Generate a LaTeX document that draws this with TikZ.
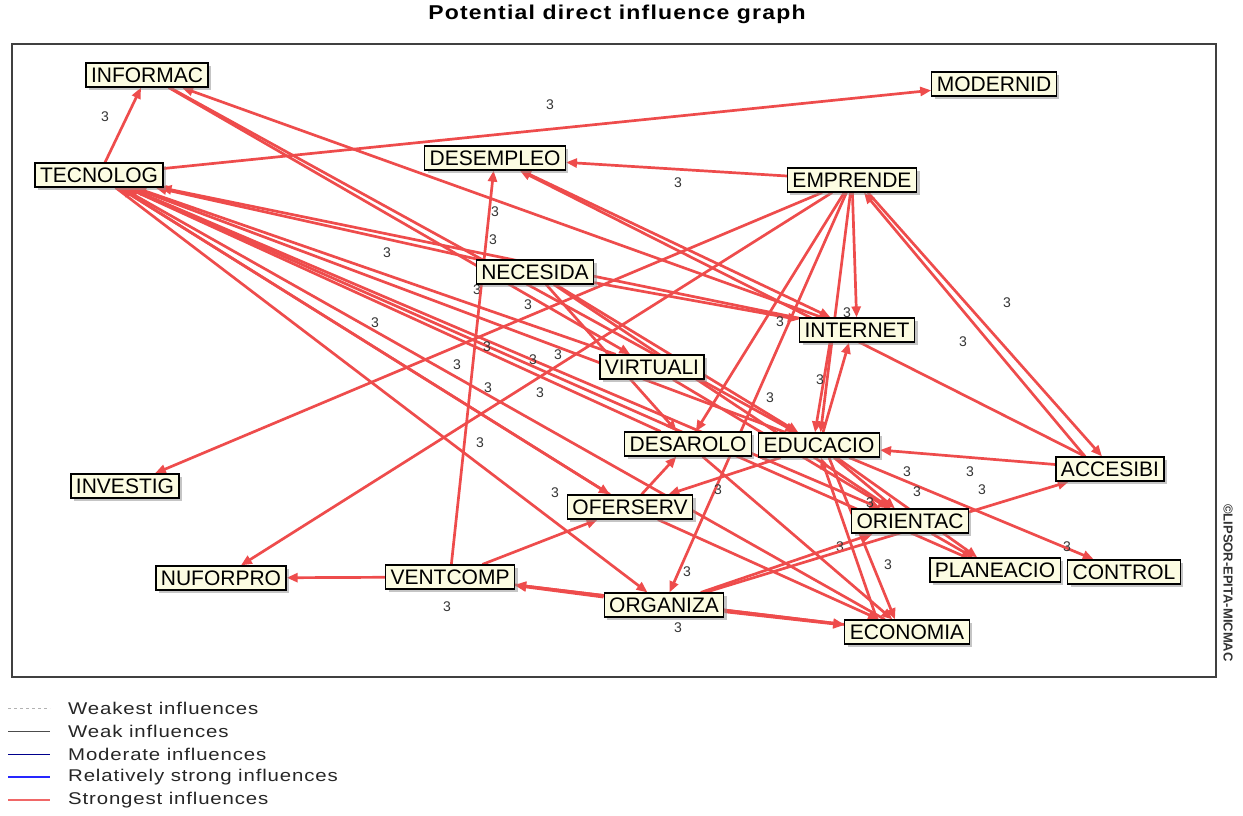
\documentclass[tikz,border=0pt]{standalone}
\usepackage{fontspec}
\setmainfont{Liberation Sans}
\newfontfamily\legfont[FakeStretch=1.2,LetterSpace=5]{Liberation Sans}
\newfontfamily\titlefont[FakeStretch=1.15,LetterSpace=6]{Liberation Sans}
\usetikzlibrary{arrows.meta, shadows}

\definecolor{inflred}{RGB}{238,76,76}
\definecolor{cream}{RGB}{252,252,226}
\pgfdeclarelayer{edges}
\pgfsetlayers{edges,main}

\begin{document}
\begin{tikzpicture}[x=1pt, y=-1pt,
    var/.style={draw=black, line width=1.2pt, fill=cream, inner xsep=5pt, inner ysep=0pt,
        minimum height=24pt, font=\fontsize{21}{23}\selectfont,
        drop shadow={shadow xshift=3pt, shadow yshift=-3pt, fill=black!45}},
    infl/.style={draw=inflred, line width=2.7pt, -{Triangle[length=11pt, width=9pt]}},
    lbl/.style={font=\fontsize{14}{16}\selectfont, text=black!80, inner sep=0pt},
    leg/.style={font=\legfont\fontsize{17}{19}\selectfont, text=black!85, anchor=west, inner sep=0pt}]
    \useasboundingbox (0,0) rectangle (1243,815);

    % title and frame
    \node[font=\titlefont\bfseries\fontsize{20}{24}\selectfont] (title) at (617,14) {Potential direct influence graph};
    \draw[line width=1.5pt, black!75] (12,44) rectangle (1216,677);
    \node[rotate=-90, font=\bfseries\fontsize{13}{15}\selectfont, text=black!80] (copy) at (1228,583) {©LIPSOR-EPITA-MICMAC};

    % variables
    \node[var] (inf) at (147,75) {INFORMAC};
    \node[var] (tec) at (99,175) {TECNOLOG};
    \node[var] (dsp) at (495,158) {DESEMPLEO};
    \node[var] (emp) at (852,180) {EMPRENDE};
    \node[var] (mod) at (994,84) {MODERNID};
    \node[var] (nec) at (535,272) {NECESIDA};
    \node[var] (int) at (857,330) {INTERNET};
    \node[var] (vir) at (652,367) {VIRTUALI};
    \node[var] (des) at (688,444) {DESAROLO};
    \node[var] (edu) at (819,445) {EDUCACIO};
    \node[var] (acc) at (1110,469) {ACCESIBI};
    \node[var] (inv) at (125,486) {INVESTIG};
    \node[var] (ofs) at (630,507) {OFERSERV};
    \node[var] (ori) at (910,521) {ORIENTAC};
    \node[var] (nuf) at (221,578) {NUFORPRO};
    \node[var] (ven) at (450,577) {VENTCOMP};
    \node[var] (org) at (664,605) {ORGANIZA};
    \node[var] (pla) at (995,570) {PLANEACIO};
    \node[var] (con) at (1124,572) {CONTROL};
    \node[var] (eco) at (907,632) {ECONOMIA};

    \begin{pgfonlayer}{edges}
    % out of TECNOLOG
    \draw[infl] (tec) -- (inf) node[lbl] at (105,117) {3};
    \draw[infl] (tec) -- (mod) node[lbl] at (550,105) {3};
    \draw[infl] (tec) -- (ofs) node[lbl] at (555,493) {3};
    \draw[infl] (tec) -- (ori) node[lbl] at (558,355) {3};
    \draw[infl] (tec) -- (org) node[lbl] at (480,443) {3};
    % into TECNOLOG
    \draw[infl] (int) -- (tec) node[lbl] at (493,240) {3};
    \draw[infl] (nec) -- (tec) node[lbl] at (387,253) {3};
    \draw[infl] (vir) -- (tec) node[lbl] at (477,290) {3};
    \draw[infl] (des) -- (tec) node[lbl] at (375,323) {3};
    \draw[infl] (pla) -- (tec) node[lbl] at (487,347) {3};
    \draw[infl] (edu) -- (tec) node[lbl] at (533,360) {3};
    \draw[infl] (eco) -- (tec) node[lbl] at (457,365) {3};
    \draw[infl] (ofs) -- (tec) node[lbl] at (488,388) {3};
    % INFORMAC
    \draw[infl] (int) -- (inf);
    \draw[infl] (inf) -- (vir) node[lbl] at (528,305) {3};
    \draw[infl] (inf) -- (edu);
    % DESEMPLEO
    \draw[infl] (emp) -- (dsp) node[lbl] at (678,183) {3};
    \draw[infl] (ven) -- (dsp) node[lbl] at (495,212) {3};
    \draw[infl] (dsp) -- (int);
    \draw[infl] (acc) -- (dsp);
    % EMPRENDE
    \draw[infl] (emp) -- (inv);
    \draw[infl] (emp) -- (nuf) node[lbl] at (540,393) {3};
    \draw[infl] (emp) -- (des) node[lbl] at (770,398) {3};
    \draw[infl] (emp) -- (edu);
    \draw[infl] (emp) -- (int) node[lbl] at (847,313) {3};
    \draw[infl] (emp) -- (org) node[lbl] at (687,572) {3};
    \draw[infl] ([xshift=16pt]emp.south) -- ([xshift=-8pt]acc.north) node[lbl] at (1007,303) {3};
    \draw[infl] ([xshift=-25pt]acc.north) -- ([xshift=12pt]emp.south) node[lbl] at (963,342) {3};
    % NECESIDA, VIRTUALI
    \draw[infl] (nec) -- (int) node[lbl] at (780,322) {3};
    \draw[infl] (nec) -- (edu);
    \draw[infl] (nec) -- (ori);
    \draw[infl] (nec) -- (des);
    \draw[infl] (vir) -- (ori);
    % INTERNET <-> EDUCACIO
    \draw[infl] ([xshift=-27pt]int.south) -- ([xshift=-4pt]edu.north) node[lbl] at (820,380) {3};
    \draw[infl] ([xshift=4pt]edu.north) -- ([xshift=-8pt]int.south);
    % EDUCACIO
    \draw[infl] (acc) -- (edu) node[lbl] at (907,472) {3} node[lbl] at (970,472) {3};
    \draw[infl] (edu) -- (con) node[lbl] at (1067,547) {3};
    \draw[infl] (edu) -- (pla) node[lbl] at (917,492) {3};
    \draw[infl] (edu) -- (ori) node[lbl] at (870,503) {3};
    \draw[infl] (edu) -- (ofs) node[lbl] at (718,490) {3};
    \draw[infl] ([xshift=10pt]edu.south) -- ([xshift=-12pt]eco.north);
    \draw[infl] ([xshift=-30pt]eco.north) -- ([xshift=2pt]edu.south) node[lbl] at (888,565) {3};
    % ORIENTAC
    \draw[infl] (ori) -- (pla);
    \draw[infl] (org) -- (ori) node[lbl] at (840,547) {3};
    \draw[infl] (org) -- (acc) node[lbl] at (982,490) {3};
    % DESAROLO, OFERSERV
    \draw[infl] (ofs) -- (des);
    \draw[infl] (des) -- (eco);
    \draw[infl] (ofs) -- (eco);
    \draw[infl] (ven) -- (ofs);
    % VENTCOMP, ORGANIZA, ECONOMIA
    \draw[infl] (ven) -- (nuf) node[lbl] at (447,607) {3};
    \draw[infl] (org) -- (ven);
    \draw[infl] (eco) -- (ven);
    \draw[infl] (ven) -- (eco);
    \draw[infl] (org) -- (eco) node[lbl] at (678,628) {3};
    \end{pgfonlayer}

    % legend
    \tikzset{lg1/.style={gray!60, line width=0.8pt, dash pattern=on 3pt off 3pt},
        lg2/.style={black!70, line width=0.8pt},
        lg3/.style={blue!55!black, line width=0.8pt},
        lg4/.style={blue!85!white, line width=2pt},
        lg5/.style={inflred!85, line width=2.6pt}}
    \foreach \sty/\txt [count=\i] in {lg1/Weakest influences, lg2/Weak influences,
        lg3/Moderate influences, lg4/Relatively strong influences, lg5/Strongest influences} {
        \draw[\sty] (8,685+23*\i) -- (50,685+23*\i);
        \node[leg] (leg\i) at (68,685+23*\i) {\txt};
    }
\end{tikzpicture}
\end{document}
